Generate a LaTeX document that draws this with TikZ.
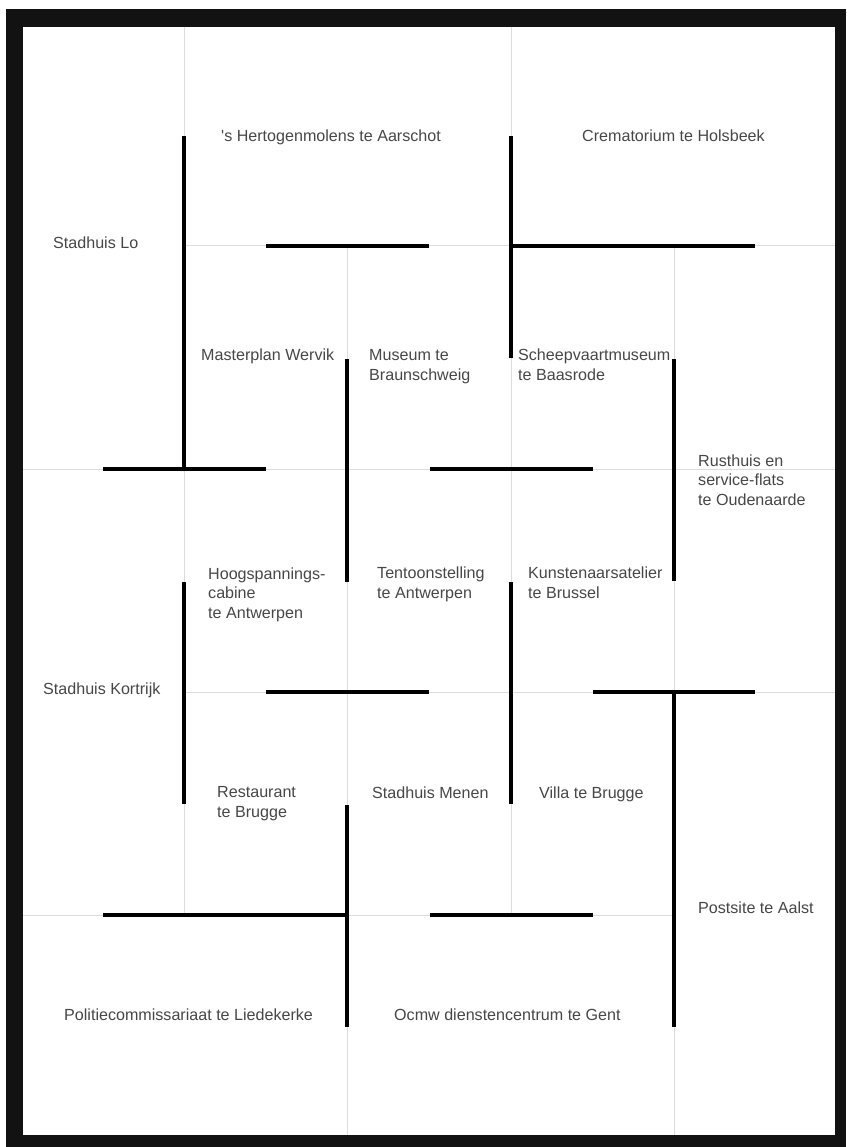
\documentclass[tikz,border=0pt]{standalone}
\usepackage{fontspec}
\setmainfont{Liberation Sans}[Ligatures=TeXOff]
\usepackage{xcolor}
\usepackage{tikz}
\usetikzlibrary{positioning}

\definecolor{gridgray}{HTML}{DCDCDC}
\definecolor{labelgray}{HTML}{474747}
\tikzset{
    gridline/.style={gridgray, line width=1pt},
    wall/.style={black, line width=4pt},
    room/.style={anchor=base west, align=left, inner sep=0pt, text=labelgray,
        font=\fontsize{16.1}{19.3}\selectfont},
}

\begin{document}
\begin{tikzpicture}[x=1pt, y=-1pt]
    \useasboundingbox (0,0) rectangle (846,1147);
    % Frame
    \fill[white] (0,0) rectangle (846,1147);
    \fill[black!93] (6,9) rectangle (846,1147);
    \fill[white] (23,27) rectangle (835,1135);

    % Grid
    \draw[gridline] (184,27) -- (184,915);
    \draw[gridline] (347,246) -- (347,1135);
    \draw[gridline] (511,27) -- (511,915);
    \draw[gridline] (674,246) -- (674,1135);
    \draw[gridline] (184,246) -- (835,246);
    \draw[gridline] (23,469) -- (835,469);
    \draw[gridline] (184,692) -- (835,692);
    \draw[gridline] (23,915) -- (674,915);

    % Walls
    \draw[wall] (184,136) -- (184,469);
    \draw[wall] (103,469) -- (266,469);
    \draw[wall] (266,246) -- (429,246);
    \draw[wall] (511,136) -- (511,358);
    \draw[wall] (511,246) -- (755,246);
    \draw[wall] (347,359) -- (347,582);
    \draw[wall] (430,469) -- (593,469);
    \draw[wall] (674,359) -- (674,581);
    \draw[wall] (184,582) -- (184,804);
    \draw[wall] (266,692) -- (429,692);
    \draw[wall] (511,582) -- (511,804);
    \draw[wall] (593,692) -- (755,692);
    \draw[wall] (674,692) -- (674,1027);
    \draw[wall] (347,805) -- (347,1027);
    \draw[wall] (103,915) -- (347,915);
    \draw[wall] (430,915) -- (593,915);

    % Labels (base = last line)
    \node[room] (aarschot) at (221,142) {'s Hertogenmolens te Aarschot};
    \node[room] (holsbeek) at (582,142) {Crematorium te Holsbeek};
    \node[room] (lo) at (53,249) {Stadhuis Lo};
    \node[room] (wervik) at (201,360) {Masterplan Wervik};
    \node[room] (braunschweig) at (369,380) {Museum te\\Braunschweig};
    \node[room] (baasrode) at (518,380) {Scheepvaartmuseum\\te Baasrode};
    \node[room] (oudenaarde) at (698,505) {Rusthuis en\\service-flats\\te Oudenaarde};
    \node[room] (cabine) at (208,618) {Hoogspannings-\\cabine\\te Antwerpen};
    \node[room] (tentoon) at (377,598) {Tentoonstelling\\te Antwerpen};
    \node[room] (brussel) at (528,598) {Kunstenaarsatelier\\te Brussel};
    \node[room] (kortrijk) at (43,694) {Stadhuis Kortrijk};
    \node[room] (restaurant) at (217,817) {Restaurant\\te Brugge};
    \node[room] (menen) at (372,798) {Stadhuis Menen};
    \node[room] (villa) at (539,798) {Villa te Brugge};
    \node[room] (aalst) at (698,913) {Postsite te Aalst};
    \node[room] (liedekerke) at (64,1020) {Politiecommissariaat te Liedekerke};
    \node[room] (gent) at (394,1020) {Ocmw dienstencentrum te Gent};
\end{tikzpicture}
\end{document}
